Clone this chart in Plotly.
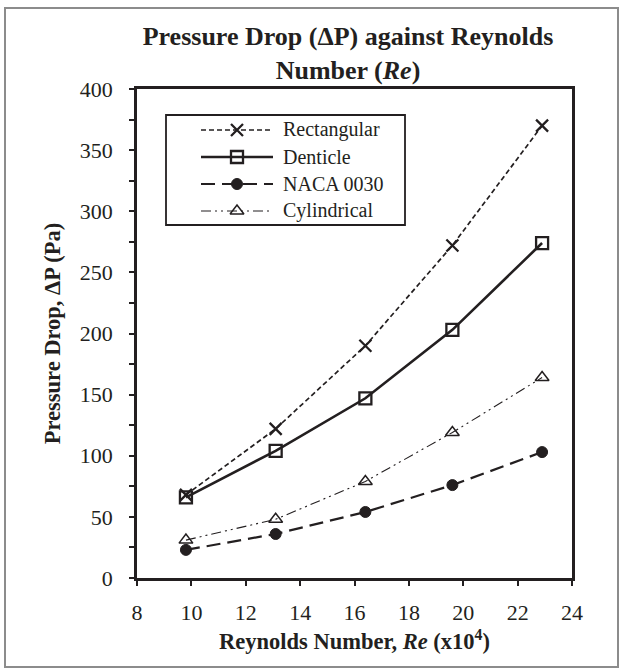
import plotly.graph_objects as go

# ---- data ----
reynolds = [9.8, 13.1, 16.4, 19.6, 22.9]
rectangular = [68, 122, 190, 272, 370]
denticle = [66, 104, 147, 203, 274]
naca0030 = [23, 36, 54, 76, 103]
cylindrical = [31, 48, 79, 119, 164]
series_names = ["Rectangular", "Denticle", "NACA 0030", "Cylindrical"]
x_ticks = [8, 10, 12, 14, 16, 18, 20, 22, 24]
y_ticks = [0, 50, 100, 150, 200, 250, 300, 350, 400]

INK = "#231f20"
FONT = "Liberation Serif, Times New Roman, serif"

styles = {
    "Rectangular": dict(line=dict(color=INK, width=1.7, dash="5px,3px"),
                        marker=dict(symbol="x-thin-open", size=12, color=INK,
                                    line=dict(width=2.3, color=INK))),
    "Denticle": dict(line=dict(color=INK, width=2.6),
                     marker=dict(symbol="square-open", size=12, color=INK,
                                 line=dict(width=2.3, color=INK))),
    "NACA 0030": dict(line=dict(color=INK, width=2.2, dash="14px,7px"),
                      marker=dict(symbol="circle", size=11, color=INK,
                                  line=dict(width=1, color=INK))),
    "Cylindrical": dict(line=dict(color=INK, width=1.1, dash="10px,4px,2px,4px,2px,4px"),
                        marker=dict(symbol="triangle-up-open", size=12, color=INK,
                                    line=dict(width=1.5, color=INK))),
}
values = {"Rectangular": rectangular, "Denticle": denticle,
          "NACA 0030": naca0030, "Cylindrical": cylindrical}

fig = go.Figure()
for name in series_names:
    st = styles[name]
    fig.add_trace(go.Scatter(x=reynolds, y=values[name], mode="lines+markers",
                             name=name, line=st["line"], marker=st["marker"],
                             showlegend=False))

L, R, T, B = 137, 572, 89, 578
W, H = 623, 672

# legend box (pixel layout)
LX0, LX1, LY0, LY1 = 166, 405, 115, 225

# ---- custom legend drawn on a separate axis pair laid over the legend box ----
row_y = [130, 157, 184, 211]
for name, ry in zip(series_names, row_y):
    st = styles[name]
    fig.add_trace(go.Scatter(x=[201, 273], y=[ry, ry], mode="lines", line=st["line"],
                             xaxis="x2", yaxis="y2", showlegend=False, hoverinfo="skip"))
    fig.add_trace(go.Scatter(x=[237], y=[ry], mode="markers", marker=st["marker"],
                             xaxis="x2", yaxis="y2", showlegend=False, hoverinfo="skip"))
    fig.add_annotation(x=281, y=ry, xref="x2", yref="y2", text=name, showarrow=False,
                       xanchor="left", yanchor="middle",
                       font=dict(family=FONT, size=20, color=INK))


def px(xpix):
    return (xpix - L) / (R - L)


def py(ypix):
    return (B - ypix) / (B - T)


fig.update_layout(
    width=W, height=H,
    margin=dict(l=L, r=W - R, t=T, b=H - B),
    paper_bgcolor="white", plot_bgcolor="white",
    title=dict(text="<b>Pressure Drop (ΔP) against Reynolds<br>Number (<i>Re</i>)</b>",
               x=348 / W, xanchor="center", y=1 - 45 / H, yanchor="middle",
               font=dict(family=FONT, size=26, color=INK)),
    font=dict(family=FONT, color=INK),
    xaxis=dict(domain=[0, 1], range=[8, 24], tickvals=x_ticks, ticks="outside", ticklen=5,
               tickwidth=2, tickcolor=INK, showline=True, linewidth=2.5, linecolor=INK,
               mirror=True, showgrid=False, zeroline=False, ticklabelstandoff=8,
               tickfont=dict(family=FONT, size=22, color=INK),
               title=dict(text="<b>Reynolds Number, <i>Re</i> (x10<sup>4</sup>)</b>",
                          font=dict(family=FONT, size=22.5, color=INK), standoff=10)),
    yaxis=dict(domain=[0, 1], range=[0, 400], tickvals=y_ticks, ticks="outside", ticklen=5,
               tickwidth=2, tickcolor=INK, showline=True, linewidth=2.5, linecolor=INK,
               mirror=True, showgrid=False, zeroline=False, ticklabelstandoff=12,
               minor=dict(dtick=25, ticks="outside", ticklen=5, tickwidth=2, tickcolor=INK,
                          showgrid=False),
               tickfont=dict(family=FONT, size=22, color=INK),
               title=dict(text="<b>Pressure Drop, ΔP (Pa)</b>",
                          font=dict(family=FONT, size=22.5, color=INK), standoff=13)),
    xaxis2=dict(domain=[px(LX0), px(LX1)], range=[LX0, LX1],
                anchor="y2", visible=False, fixedrange=True),
    yaxis2=dict(domain=[py(LY1), py(LY0)], range=[LY1, LY0],
                anchor="x2", visible=False, fixedrange=True),
    shapes=[
        dict(type="rect", xref="paper", yref="paper",
             x0=px(LX0), x1=px(LX1), y0=py(LY1), y1=py(LY0),
             line=dict(color=INK, width=1.8), fillcolor="rgba(0,0,0,0)"),
        dict(type="rect", xref="paper", yref="paper",
             x0=px(5), x1=px(618), y0=py(667), y1=py(8),
             line=dict(color="#8c8c8c", width=2), fillcolor="rgba(0,0,0,0)"),
    ],
)

fig.write_html("out.html")
